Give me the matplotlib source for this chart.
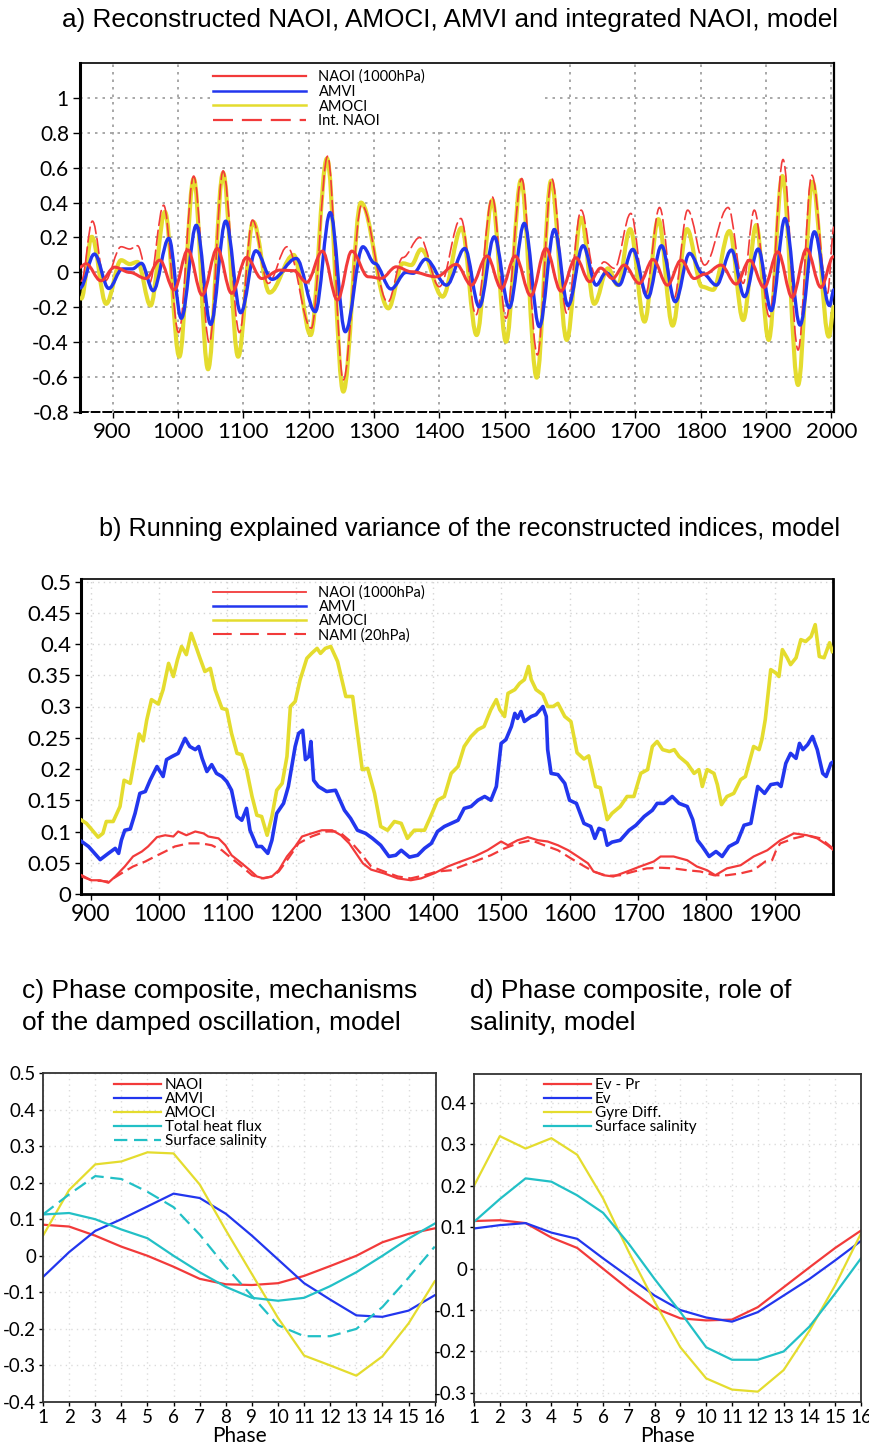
#NAOI / AMOCI / AMVI composite figure (a-d)

import numpy as np
import matplotlib
matplotlib.use('Agg')
import matplotlib.pyplot as plt
from matplotlib.path import Path
from matplotlib.patches import PathPatch, Rectangle
from matplotlib.lines import Line2D
from matplotlib.ticker import FuncFormatter

#---------------- data ----------------
#a) reconstructed indices, read as (year, value) turning points
naoi_a_yr = [850, 859, 882, 903, 926, 951, 972, 994, 1015, 1037, 1060, 1082, 1105, 1128, 1156, 1177, 1197, 1221, 1244,
             1266, 1291, 1311, 1334, 1357, 1395, 1426, 1449, 1473, 1495, 1516, 1540, 1563, 1586, 1609, 1630, 1647, 1665,
             1683, 1706, 1727, 1749, 1770, 1790, 1806, 1831, 1854, 1875, 1897, 1918, 1940, 1962, 1984, 2003]
naoi_a = [0.03, 0.05, -0.048, 0.03, 0.0, -0.035, 0.07, -0.1, 0.128, -0.13, 0.137, -0.12, 0.086, -0.035, 0.013, 0.01, -0.057, 0.122, -0.158,
          0.122, -0.025, -0.034, 0.032, 0.004, -0.025, 0.046, -0.073, 0.094, -0.092, 0.094, -0.134, 0.137, -0.107, 0.084, -0.053, 0.025, -0.035,
          0.042, -0.063, 0.074, -0.073, 0.07, -0.035, -0.01, 0.042, -0.067, 0.07, -0.086, 0.118, -0.143, 0.134, -0.086, 0.09]

amvi_a_yr = [850, 872, 894, 915, 930, 944, 962, 986, 1005, 1028, 1050, 1073, 1096, 1119, 1144, 1181, 1210, 1233, 1256, 1283,
             1301, 1326, 1349, 1360, 1379, 1411, 1439, 1461, 1484, 1507, 1530, 1553, 1576, 1597, 1620, 1640, 1655, 1675,
             1696, 1719, 1740, 1761, 1783, 1803, 1824, 1847, 1867, 1888, 1908, 1929, 1952, 1974, 1997, 2004]
amvi_a = [-0.09, 0.105, -0.092, 0.02, 0.02, 0.052, -0.105, 0.195, -0.263, 0.27, -0.298, 0.294, -0.231, 0.124, -0.04, 0.08, -0.225, 0.343, -0.34, 0.147,
          0.052, -0.095, 0.0, -0.005, 0.076, -0.073, 0.137, -0.197, 0.204, -0.202, 0.281, -0.311, 0.246, -0.19, 0.153, -0.073, -0.002, -0.073,
          0.132, -0.145, 0.153, -0.168, 0.109, -0.006, -0.073, 0.128, -0.139, 0.134, -0.219, 0.309, -0.302, 0.233, -0.19, -0.1]

amoci_a_yr = [852, 868, 890, 913, 926, 938, 958, 980, 1002, 1024, 1046, 1069, 1092, 1115, 1140, 1177, 1203, 1228, 1253, 1280,
              1322, 1344, 1357, 1372, 1405, 1434, 1457, 1481, 1502, 1525, 1549, 1571, 1595, 1617, 1637, 1658, 1673, 1692,
              1714, 1735, 1757, 1779, 1802, 1819, 1844, 1865, 1885, 1904, 1925, 1949, 1971, 1996, 2004]
amoci_a = [-0.15, 0.204, -0.18, 0.07, 0.048, 0.06, -0.19, 0.347, -0.483, 0.538, -0.555, 0.57, -0.483, 0.29, -0.116, 0.1, -0.359, 0.653, -0.683, 0.4,
           -0.206, 0.052, 0.042, 0.132, -0.139, 0.256, -0.359, 0.414, -0.397, 0.529, -0.603, 0.525, -0.387, 0.313, -0.18, 0.023, -0.073, 0.248,
           -0.282, 0.305, -0.305, 0.248, -0.082, -0.1, 0.237, -0.273, 0.271, -0.387, 0.552, -0.645, 0.519, -0.368, -0.197]

intnaoi_a_yr = [852, 869, 888, 913, 926, 938, 956, 978, 1001, 1024, 1048, 1069, 1094, 1114, 1138, 1167, 1204, 1229, 1253, 1281,
                1321, 1344, 1370, 1400, 1433, 1456, 1481, 1502, 1526, 1550, 1572, 1595, 1617, 1638, 1652, 1668, 1693, 1715,
                1737, 1759, 1780, 1806, 1842, 1865, 1882, 1905, 1926, 1949, 1970, 1994, 2004]
intnaoi_a = [-0.05, 0.294, -0.05, 0.147, 0.134, 0.153, -0.063, 0.385, -0.345, 0.552, -0.403, 0.582, -0.345, 0.3, -0.063, 0.147, -0.32, 0.666, -0.616, 0.385,
             -0.17, 0.085, 0.2, -0.082, 0.309, -0.244, 0.433, -0.263, 0.538, -0.473, 0.538, -0.235, 0.357, -0.01, 0.06, 0.023, 0.338, -0.13,
             0.372, -0.149, 0.357, 0.042, 0.372, -0.063, 0.357, -0.254, 0.647, -0.445, 0.557, -0.12, 0.26]

#b) running explained variance
amoci_b_yr = [887, 894, 911, 918, 923, 933, 943, 949, 958, 965, 971, 977, 982, 989, 999, 1006, 1014, 1021, 1027, 1033, 1040, 1047, 1053,
              1060, 1067, 1075, 1082, 1092, 1099, 1106, 1114, 1121, 1128, 1136, 1143, 1150, 1158, 1165, 1172, 1180, 1187, 1192, 1199,
              1206, 1216, 1223, 1231, 1236, 1243, 1251, 1261, 1273, 1283, 1290, 1297, 1305, 1315, 1324, 1334, 1344, 1354, 1363, 1373,
              1388, 1397, 1407, 1417, 1427, 1437, 1446, 1456, 1466, 1475, 1485, 1493, 1498, 1505, 1510, 1520, 1527, 1534, 1540, 1544,
              1551, 1561, 1568, 1576, 1583, 1593, 1602, 1611, 1621, 1628, 1638, 1645, 1655, 1662, 1674, 1684, 1694, 1704, 1714, 1721,
              1728, 1736, 1746, 1753, 1760, 1772, 1782, 1789, 1794, 1801, 1811, 1816, 1822, 1830, 1840, 1850, 1857, 1869, 1877, 1881,
              1886, 1894, 1901, 1906, 1911, 1918, 1923, 1931, 1938, 1945, 1953, 1959, 1965, 1972, 1980, 1984]
amoci_b = [0.118, 0.113, 0.091, 0.097, 0.116, 0.116, 0.14, 0.182, 0.177, 0.22, 0.256, 0.245, 0.278, 0.311, 0.304, 0.327, 0.369, 0.348, 0.375, 0.396, 0.383, 0.417, 0.399,
           0.377, 0.356, 0.361, 0.327, 0.297, 0.295, 0.257, 0.225, 0.223, 0.199, 0.156, 0.126, 0.124, 0.094, 0.124, 0.166, 0.177, 0.22, 0.3, 0.308,
           0.342, 0.377, 0.385, 0.393, 0.385, 0.393, 0.396, 0.372, 0.316, 0.316, 0.257, 0.199, 0.201, 0.161, 0.108, 0.102, 0.116, 0.113, 0.089, 0.102,
           0.102, 0.124, 0.15, 0.156, 0.193, 0.204, 0.236, 0.252, 0.263, 0.268, 0.295, 0.311, 0.295, 0.284, 0.321, 0.327, 0.337, 0.343, 0.364, 0.343,
           0.327, 0.319, 0.3, 0.3, 0.305, 0.284, 0.276, 0.226, 0.216, 0.221, 0.172, 0.170, 0.119, 0.129, 0.140, 0.156, 0.156, 0.193, 0.199, 0.236,
           0.244, 0.231, 0.228, 0.231, 0.22, 0.209, 0.193, 0.199, 0.172, 0.199, 0.193, 0.175, 0.143, 0.156, 0.161, 0.183, 0.188, 0.236, 0.231, 0.247,
           0.279, 0.359, 0.354, 0.348, 0.391, 0.378, 0.367, 0.378, 0.407, 0.404, 0.412, 0.431, 0.380, 0.378, 0.402, 0.388]

amvi_b_yr = [887, 897, 914, 926, 936, 941, 945, 950, 958, 965, 972, 980, 987, 997, 1006, 1011, 1019, 1028, 1038, 1045, 1053, 1058, 1063,
             1070, 1077, 1084, 1092, 1099, 1106, 1114, 1121, 1128, 1133, 1143, 1150, 1159, 1165, 1172, 1182, 1189, 1199, 1204, 1210,
             1214, 1219, 1222, 1226, 1233, 1245, 1258, 1271, 1280, 1290, 1302, 1312, 1324, 1336, 1346, 1354, 1366, 1378, 1388, 1398,
             1407, 1417, 1427, 1437, 1446, 1456, 1466, 1476, 1485, 1493, 1500, 1507, 1515, 1520, 1524, 1529, 1534, 1544, 1551, 1561,
             1566, 1568, 1573, 1583, 1593, 1600, 1610, 1621, 1631, 1637, 1643, 1650, 1655, 1662, 1674, 1687, 1697, 1709, 1721, 1728,
             1738, 1750, 1760, 1772, 1780, 1787, 1794, 1804, 1814, 1823, 1833, 1845, 1855, 1865, 1875, 1885, 1894, 1904, 1909, 1916,
             1923, 1931, 1936, 1941, 1948, 1955, 1962, 1970, 1975, 1982, 1986]
amvi_b = [0.084, 0.076, 0.055, 0.065, 0.073, 0.065, 0.086, 0.102, 0.104, 0.129, 0.161, 0.164, 0.182, 0.204, 0.188, 0.215, 0.22, 0.225, 0.249, 0.236, 0.231, 0.236, 0.217,
          0.196, 0.207, 0.193, 0.188, 0.18, 0.166, 0.124, 0.118, 0.137, 0.102, 0.076, 0.076, 0.065, 0.086, 0.129, 0.145, 0.172, 0.236, 0.257, 0.262,
          0.215, 0.22, 0.244, 0.182, 0.172, 0.164, 0.166, 0.134, 0.121, 0.102, 0.097, 0.089, 0.078, 0.06, 0.062, 0.07, 0.059, 0.062, 0.073, 0.081,
          0.1, 0.108, 0.113, 0.118, 0.137, 0.14, 0.15, 0.156, 0.15, 0.172, 0.241, 0.247, 0.268, 0.289, 0.281, 0.292, 0.276, 0.284, 0.287, 0.3,
          0.284, 0.231, 0.193, 0.191, 0.177, 0.15, 0.145, 0.113, 0.108, 0.089, 0.105, 0.102, 0.078, 0.083, 0.086, 0.102, 0.110, 0.124, 0.134, 0.145,
          0.145, 0.156, 0.145, 0.140, 0.119, 0.086, 0.076, 0.060, 0.068, 0.060, 0.076, 0.083, 0.110, 0.113, 0.172, 0.161, 0.175, 0.177, 0.172, 0.209,
          0.225, 0.217, 0.241, 0.231, 0.239, 0.252, 0.231, 0.193, 0.188, 0.209, 0.212]

naoi_b_yr = [887, 901, 914, 926, 936, 950, 962, 975, 984, 997, 1009, 1021, 1028, 1040, 1053, 1065, 1072, 1087, 1097, 1106, 1121, 1133,
             1143, 1153, 1165, 1175, 1187, 1199, 1209, 1223, 1238, 1253, 1266, 1278, 1288, 1298, 1310, 1329, 1349, 1368, 1383, 1402,
             1422, 1441, 1461, 1480, 1500, 1510, 1524, 1539, 1554, 1568, 1583, 1598, 1612, 1627, 1635, 1650, 1664, 1684, 1703, 1723,
             1733, 1752, 1772, 1786, 1801, 1813, 1830, 1850, 1869, 1889, 1908, 1928, 1947, 1962, 1977, 1986]
naoi_b = [0.03, 0.022, 0.022, 0.018, 0.028, 0.044, 0.06, 0.068, 0.076, 0.091, 0.094, 0.092, 0.1, 0.094, 0.1, 0.097, 0.092, 0.089, 0.078, 0.062, 0.049, 0.038,
          0.028, 0.025, 0.028, 0.038, 0.06, 0.076, 0.092, 0.097, 0.102, 0.102, 0.094, 0.081, 0.065, 0.049, 0.039, 0.033, 0.025, 0.022, 0.025, 0.033,
          0.044, 0.052, 0.06, 0.07, 0.084, 0.078, 0.086, 0.091, 0.086, 0.084, 0.078, 0.07, 0.06, 0.049, 0.036, 0.03, 0.028, 0.036, 0.044, 0.052,
          0.06, 0.06, 0.054, 0.044, 0.038, 0.03, 0.041, 0.046, 0.06, 0.07, 0.086, 0.097, 0.094, 0.089, 0.078, 0.07]

nami_b_yr = [887, 901, 926, 945, 962, 980, 994, 1009, 1023, 1043, 1062, 1077, 1092, 1106, 1121, 1136, 1150, 1165, 1175, 1189, 1204,
             1223, 1243, 1258, 1266, 1280, 1295, 1310, 1329, 1349, 1368, 1388, 1407, 1427, 1446, 1466, 1485, 1505, 1524, 1544, 1563,
             1583, 1602, 1622, 1635, 1655, 1674, 1694, 1713, 1733, 1752, 1772, 1791, 1811, 1830, 1850, 1869, 1886, 1896, 1903, 1908,
             1928, 1947, 1967, 1986]
nami_b = [0.028, 0.022, 0.02, 0.033, 0.044, 0.052, 0.06, 0.068, 0.076, 0.081, 0.081, 0.078, 0.07, 0.057, 0.044, 0.03, 0.025, 0.028, 0.036, 0.057, 0.081,
          0.092, 0.1, 0.1, 0.097, 0.084, 0.065, 0.044, 0.036, 0.028, 0.025, 0.03, 0.036, 0.038, 0.046, 0.054, 0.062, 0.073, 0.081, 0.086, 0.078,
          0.07, 0.057, 0.044, 0.036, 0.029, 0.03, 0.036, 0.041, 0.042, 0.041, 0.038, 0.036, 0.03, 0.03, 0.033, 0.038, 0.052, 0.054, 0.073, 0.081,
          0.089, 0.094, 0.089, 0.072]

#c) / d) phase composites
phase = list(range(1, 17))
c_naoi = [0.085, 0.08, 0.055, 0.025, 0.0, -0.03, -0.063, -0.078, -0.08, -0.075, -0.055, -0.028, 0.0, 0.037, 0.06, 0.075]
c_amvi = [-0.058, 0.01, 0.068, 0.1, 0.135, 0.17, 0.158, 0.115, 0.055, -0.01, -0.075, -0.12, -0.163, -0.167, -0.15, -0.108]
c_amoci = [0.055, 0.18, 0.25, 0.258, 0.283, 0.28, 0.195, 0.07, -0.05, -0.17, -0.273, -0.3, -0.328, -0.275, -0.185, -0.07]
c_heat = [0.113, 0.117, 0.1, 0.072, 0.048, 0.0, -0.045, -0.085, -0.115, -0.123, -0.115, -0.083, -0.045, 0.0, 0.047, 0.088]
c_salt = [0.113, 0.168, 0.218, 0.21, 0.175, 0.133, 0.058, -0.03, -0.11, -0.19, -0.22, -0.22, -0.2, -0.14, -0.06, 0.025]

d_evpr = [0.115, 0.117, 0.11, 0.075, 0.05, 0.0, -0.05, -0.095, -0.12, -0.125, -0.123, -0.093, -0.045, 0.003, 0.05, 0.092]
d_ev = [0.097, 0.105, 0.11, 0.087, 0.072, 0.025, -0.02, -0.065, -0.1, -0.118, -0.128, -0.105, -0.065, -0.025, 0.02, 0.067]
d_gyre = [0.2, 0.32, 0.29, 0.315, 0.275, 0.17, 0.04, -0.08, -0.19, -0.265, -0.292, -0.297, -0.245, -0.15, -0.04, 0.085]
d_salt = [0.113, 0.168, 0.218, 0.21, 0.177, 0.135, 0.06, -0.025, -0.105, -0.19, -0.22, -0.22, -0.2, -0.14, -0.06, 0.025]

#---------------- style ----------------
RED = '#f23a3a'
BLUE = '#2236ee'
YEL = '#e4dc2e'
CYAN = '#22c0c6'
TICKFONT = 'Lato'
TITLEFONT = 'Liberation Sans'

W, H = 870, 1445
fig = plt.figure(figsize=(W / 100, H / 100), dpi=100)

def box(l, t, r, b):
    return [l / W, 1 - b / H, (r - l) / W, (b - t) / H]

def fmt(v, p):
    return f'{round(v, 3) + 0:g}'

def smooth_path(ax, xs, ys, **kw):
    #cubic bezier through the read turning points, flat tangent at each one
    verts = [(xs[0], ys[0])]
    codes = [Path.MOVETO]
    for i in range(1, len(xs)):
        d = xs[i] - xs[i - 1]
        verts += [(xs[i - 1] + 0.36 * d, ys[i - 1]), (xs[i] - 0.36 * d, ys[i]), (xs[i], ys[i])]
        codes += [Path.CURVE4] * 3
    ax.add_patch(PathPatch(Path(verts, codes), fill=False, capstyle='round', joinstyle='round', **kw))

def spines(ax, lw):
    for k, w in lw.items():
        ax.spines[k].set_linewidth(w)
        ax.spines[k].set_color('black')

#---------------- a) ----------------
ax = fig.add_axes(box(80, 63, 834, 412))
ax.set_xlim(850, 2004)
ax.set_ylim(-0.8, 1.2)
ax.set_xticks(range(900, 2001, 100))
ax.set_yticks(np.round(np.arange(-0.8, 1.01, 0.2), 2))
ax.yaxis.set_major_formatter(FuncFormatter(fmt))
ax.grid(True, color='#9a9a9a', linestyle=(0, (1.5, 3)), linewidth=1.2)
ax.set_axisbelow(True)
ax.add_patch(Rectangle((0.176, 0.815), 0.434, 0.185, transform=ax.transAxes, facecolor='white', edgecolor='none', zorder=1.5))
smooth_path(ax, amoci_a_yr, amoci_a, edgecolor=YEL, linewidth=3.0, zorder=3)
smooth_path(ax, intnaoi_a_yr, intnaoi_a, edgecolor=RED, linewidth=1.2, linestyle=(0, (9, 3)), zorder=4)
smooth_path(ax, amvi_a_yr, amvi_a, edgecolor=BLUE, linewidth=2.4, zorder=5)
smooth_path(ax, naoi_a_yr, naoi_a, edgecolor=RED, linewidth=2.2, zorder=6)
spines(ax, {'left': 2.2, 'right': 1.6, 'top': 1.2, 'bottom': 1.4})
ax.spines['bottom'].set_linestyle((0, (4, 2)))
ax.tick_params(axis='y', labelsize=15, length=5, width=1, pad=3)
ax.tick_params(axis='x', labelsize=16, length=4, width=1, pad=3)
for t in ax.get_xticklabels() + ax.get_yticklabels():
    t.set_family(TICKFONT)
h = [Line2D([], [], color=RED, lw=1.6), Line2D([], [], color=BLUE, lw=1.8), Line2D([], [], color=YEL, lw=1.8),
     Line2D([], [], color=RED, lw=1.6, linestyle=(0, (9, 4)))]
leg = ax.legend(h, ['NAOI (1000hPa)', 'AMVI', 'AMOCI', 'Int. NAOI'], loc='upper left',
                bbox_to_anchor=(204 / W, 1 - 61 / H), bbox_transform=fig.transFigure,
                prop={'family': TICKFONT, 'size': 10.5}, handlelength=6.4, handletextpad=0.85,
                labelspacing=0.05, borderpad=0.1, frameon=False)
fig.text(450 / W, 1 - 20 / H, 'a) Reconstructed NAOI, AMOCI, AMVI and integrated NAOI, model',
         ha='center', va='center', fontsize=18.8, family=TITLEFONT)

#---------------- b) ----------------
ax = fig.add_axes(box(81, 579, 833, 894))
ax.set_xlim(886, 1985)
ax.set_ylim(0, 0.504)
ax.set_xticks(range(900, 1901, 100))
ax.set_yticks(np.round(np.arange(0, 0.501, 0.05), 2))
ax.yaxis.set_major_formatter(FuncFormatter(fmt))
ax.grid(True, color='#d4d4d4', linestyle=(0, (1, 3)), linewidth=1.0)
ax.set_axisbelow(True)
ax.plot(amoci_b_yr, amoci_b, color=YEL, lw=2.6, zorder=3)
ax.plot(amvi_b_yr, amvi_b, color=BLUE, lw=2.6, zorder=4)
ax.plot(nami_b_yr, nami_b, color=RED, lw=1.6, linestyle=(0, (5, 2.5)), zorder=5)
ax.plot(naoi_b_yr, naoi_b, color=RED, lw=1.6, zorder=6)
spines(ax, {'left': 2.2, 'right': 2.0, 'top': 1.2, 'bottom': 2.0})
ax.tick_params(axis='y', labelsize=16, length=4, width=1, pad=3)
ax.tick_params(axis='x', labelsize=16.5, length=4, width=1, pad=3)
for t in ax.get_xticklabels() + ax.get_yticklabels():
    t.set_family(TICKFONT)
h = [Line2D([], [], color=RED, lw=1.3), Line2D([], [], color=BLUE, lw=1.8), Line2D([], [], color=YEL, lw=1.8),
     Line2D([], [], color=RED, lw=1.5, linestyle=(0, (9, 4)))]
ax.legend(h, ['NAOI (1000hPa)', 'AMVI', 'AMOCI', 'NAMI (20hPa)'], loc='upper left',
          bbox_to_anchor=(204 / W, 1 - 577 / H), bbox_transform=fig.transFigure,
          prop={'family': TICKFONT, 'size': 10.5}, handlelength=6.4, handletextpad=0.85,
          labelspacing=0.0, borderpad=0.1, frameon=False)
fig.text(470 / W, 1 - 529 / H, 'b) Running explained variance of the reconstructed indices, model',
         ha='center', va='center', fontsize=18.2, family=TITLEFONT)

#---------------- c) / d) ----------------
def phase_axes(rect, ylim, yticks):
    ax = fig.add_axes(rect)
    ax.set_xlim(1, 16.05)
    ax.set_ylim(*ylim)
    ax.set_xticks(phase)
    ax.set_yticks(yticks)
    ax.yaxis.set_major_formatter(FuncFormatter(fmt))
    ax.grid(True, color='#dcdcdc', linestyle=(0, (1, 3)), linewidth=1.0)
    ax.set_axisbelow(True)
    for s in ax.spines.values():
        s.set_linewidth(1.3)
        s.set_color('#333333')
    ax.tick_params(axis='both', labelsize=13.5, length=3, width=1, pad=2)
    for t in ax.get_xticklabels() + ax.get_yticklabels():
        t.set_family(TICKFONT)
    ax.set_xlabel('Phase', fontsize=15, family=TICKFONT, labelpad=0)
    return ax

ax = phase_axes(box(43, 1073, 436, 1402), (-0.4, 0.5), np.round(np.arange(-0.4, 0.51, 0.1), 2))
ax.plot(phase, c_naoi, color=RED, lw=1.6, label='NAOI')
ax.plot(phase, c_amvi, color=BLUE, lw=1.6, label='AMVI')
ax.plot(phase, c_amoci, color=YEL, lw=1.6, label='AMOCI')
ax.plot(phase, c_heat, color=CYAN, lw=1.6, label='Total heat flux')
ax.plot(phase, c_salt, color=CYAN, lw=1.6, linestyle=(0, (6, 3)), label='Surface salinity')
ax.legend(loc='upper left', bbox_to_anchor=(105 / W, 1 - 1069 / H), bbox_transform=fig.transFigure,
          prop={'family': TICKFONT, 'size': 11}, handlelength=3.05, handletextpad=0.25,
          labelspacing=0.0, borderpad=0.1, frameon=False)
fig.text(22 / W, 1 - 991 / H, 'c) Phase composite, mechanisms', ha='left', va='center', fontsize=19, family=TITLEFONT)
fig.text(22 / W, 1 - 1023 / H, 'of the damped oscillation, model', ha='left', va='center', fontsize=19, family=TITLEFONT)

ax = phase_axes(box(474, 1074, 861, 1402), (-0.322, 0.47), np.round(np.arange(-0.3, 0.41, 0.1), 2))
ax.set_xlim(1, 16)
ax.plot(phase, d_evpr, color=RED, lw=1.6, label='Ev - Pr')
ax.plot(phase, d_ev, color=BLUE, lw=1.6, label='Ev')
ax.plot(phase, d_gyre, color=YEL, lw=1.6, label='Gyre Diff.')
ax.plot(phase, d_salt, color=CYAN, lw=1.6, label='Surface salinity')
ax.legend(loc='upper left', bbox_to_anchor=(535 / W, 1 - 1069 / H), bbox_transform=fig.transFigure,
          prop={'family': TICKFONT, 'size': 11}, handlelength=3.05, handletextpad=0.25,
          labelspacing=0.0, borderpad=0.1, frameon=False)
fig.text(470 / W, 1 - 991 / H, 'd) Phase composite, role of', ha='left', va='center', fontsize=19, family=TITLEFONT)
fig.text(470 / W, 1 - 1023 / H, 'salinity, model', ha='left', va='center', fontsize=19, family=TITLEFONT)

fig.savefig('out.png', dpi=100)
